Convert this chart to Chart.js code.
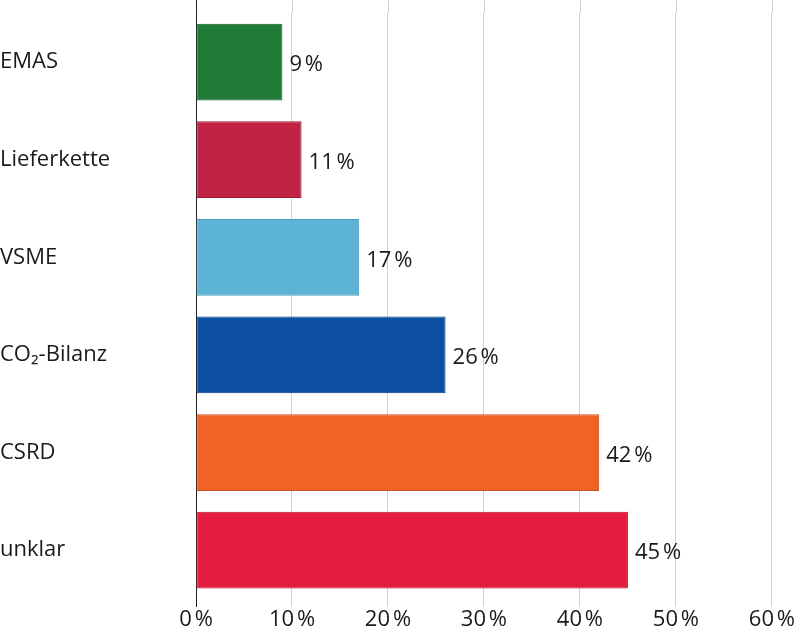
<!DOCTYPE html>
<html>
<head>
<meta charset="utf-8">
<script src="https://cdn.jsdelivr.net/npm/chart.js@4.4.1/dist/chart.umd.min.js"></script>
<style>
  html, body { margin: 0; padding: 0; background: #fff; }
  #wrap { width: 795px; height: 635px; position: relative; }
</style>
</head>
<body>
<div id="wrap"><canvas id="chart"></canvas></div>
<script>
// Daten aus der Grafik
const kategorien = ['EMAS', 'Lieferkette', 'VSME', 'CO\u2082-Bilanz', 'CSRD', 'unklar'];
const anteile = [9, 11, 17, 26, 42, 45];
const farben = ['#1f7a36', '#c02343', '#5db3d5', '#0b4ea2', '#ef6327', '#e41c3d'];
const randFarben = ['#175e29', '#9a1b35', '#4a9bbb', '#083d80', '#c94f1c', '#b91530'];
const achseMax = 60;
const achseSchritt = 10;

const SCHRIFT = '"Open Sans", "DejaVu Sans", sans-serif';
const TEXT = '#1a1a1a';
const pct = v => v + '\u202F%';

// Wertebeschriftung rechts neben den Balken
const werte = {
    id: 'werte',
    afterDatasetsDraw(chart) {
        const ctx = chart.ctx;
        const meta = chart.getDatasetMeta(0);
        ctx.save();
        ctx.font = '22px ' + SCHRIFT;
        ctx.fillStyle = TEXT;
        ctx.textAlign = 'left';
        ctx.textBaseline = 'middle';
        meta.data.forEach((bar, i) => {
            ctx.fillText(pct(anteile[i]), bar.x + 7, bar.y + 3);
        });
        ctx.restore();
    }
};

// Gitterlinien bis zum oberen Rand verlängern
const gitterOben = {
    id: 'gitterOben',
    beforeDatasetsDraw(chart) {
        const ctx = chart.ctx;
        const x = chart.scales.x;
        ctx.save();
        x.ticks.forEach((t, i) => {
            const px = Math.round(x.getPixelForValue(t.value)) + 0.5;
            ctx.strokeStyle = i === 0 ? '#222' : '#d2d2d2';
            ctx.lineWidth = 1;
            ctx.beginPath();
            ctx.moveTo(px, 0);
            ctx.lineTo(px, chart.chartArea.top);
            ctx.stroke();
        });
        ctx.restore();
    }
};

new Chart(document.getElementById('chart'), {
    type: 'bar',
    data: {
        labels: kategorien,
        datasets: [{
            data: anteile,
            backgroundColor: farben,
            borderColor: randFarben,
            borderWidth: 1,
            borderSkipped: false,
            categoryPercentage: 1,
            barPercentage: 0.786
        }]
    },
    options: {
        indexAxis: 'y',
        responsive: true,
        maintainAspectRatio: false,
        animation: false,
        layout: { padding: { top: 11, right: 23, left: 0, bottom: 0 } },
        plugins: {
            legend: { display: false },
            tooltip: { enabled: false }
        },
        scales: {
            x: {
                min: 0,
                max: achseMax,
                afterFit: s => { s.height = 36; },
                ticks: {
                    stepSize: achseSchritt,
                    color: TEXT,
                    font: { family: SCHRIFT, size: 22 },
                    padding: 0,
                    callback: v => pct(v)
                },
                grid: {
                    color: c => c.index === 0 ? '#222' : '#d2d2d2',
                    lineWidth: 1,
                    tickLength: 8,
                    drawOnChartArea: true
                },
                border: { display: false }
            },
            y: {
                afterFit: s => { s.width = 196; },
                ticks: {
                    color: TEXT,
                    font: { family: SCHRIFT, size: 22 },
                    crossAlign: 'far',
                    padding: 0
                },
                grid: { display: false },
                border: { display: false }
            }
        }
    },
    plugins: [werte, gitterOben]
});
</script>
</body>
</html>
